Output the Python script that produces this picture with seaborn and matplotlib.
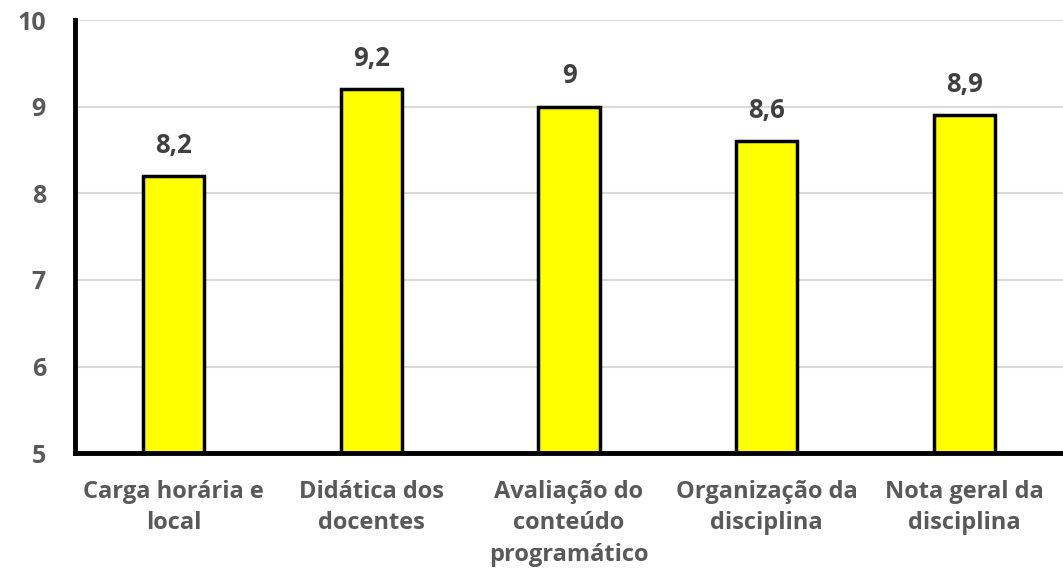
import pandas as pd
import seaborn as sns
import matplotlib.pyplot as plt

categorias = ["Carga horária e\nlocal", "Didática dos\ndocentes", "Avaliação do\nconteúdo\nprogramático",
              "Organização da\ndisciplina", "Nota geral da\ndisciplina"]
notas = [8.2, 9.2, 9.0, 8.6, 8.9]
rotulos = ["8,2", "9,2", "9", "8,6", "8,9"]

df = pd.DataFrame({"categoria": categorias, "nota": notas})

sns.set_style("white")
plt.rcParams["font.family"] = ["Open Sans", "DejaVu Sans"]

fig = plt.figure(figsize=(10.63, 5.78), dpi=100)
ax = fig.add_axes([0.0706, 0.216, 0.9294, 0.749])

sns.barplot(x="categoria", y="nota", data=df, color="#FFFF00", edgecolor="black",
            linewidth=2.5, width=0.31, saturation=1, ax=ax)

# grade horizontal
ax.set_ylim(5, 10)
ax.set_yticks([5, 6, 7, 8, 9, 10])
ax.yaxis.grid(True, color="#D9D9D9", linewidth=1.5)
ax.set_axisbelow(True)

for i, v in enumerate(notas):
    ax.text(i, v + 0.2, rotulos[i], ha="center", va="bottom", fontsize=18.5,
            fontweight="bold", color="#404040")

for s in ["top", "right"]:
    ax.spines[s].set_visible(False)
for s in ["left", "bottom"]:
    ax.spines[s].set_color("black")
    ax.spines[s].set_linewidth(3.5)

ax.tick_params(axis="both", length=0, labelcolor="#595959")
ax.tick_params(axis="y", pad=21, labelsize=18)
ax.tick_params(axis="x", pad=19, labelsize=17)
for lbl in ax.get_xticklabels() + ax.get_yticklabels():
    lbl.set_fontweight("bold")
for lbl in ax.get_xticklabels():
    lbl.set_linespacing(1.42)
ax.set_xlabel("")
ax.set_ylabel("")

plt.savefig("out.png", dpi=100)
